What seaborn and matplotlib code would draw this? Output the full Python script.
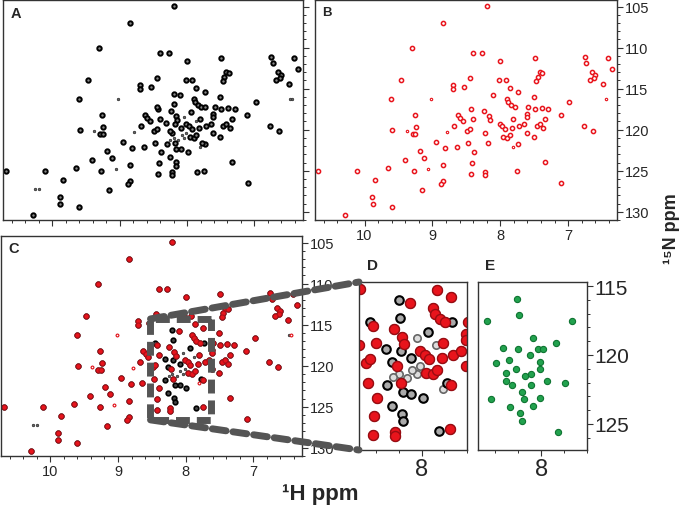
import matplotlib
matplotlib.use("Agg")
import matplotlib.pyplot as plt
import numpy as np
import pandas as pd
import seaborn as sns
from matplotlib.patches import Rectangle, ConnectionPatch
from matplotlib.ticker import MultipleLocator, NullFormatter, FormatStrFormatter

sns.set_style("white")
plt.rcParams["font.family"] = ["Liberation Sans", "DejaVu Sans"]

# peak list of the red spectrum (1H ppm, 15N ppm), also present in black spectrum
red_h = [8.20, 8.84, 9.30, 8.40, 8.27, 8.00, 9.47, 8.44, 8.02, 7.92, 7.49, 7.42, 7.38, 7.45, 7.47,
         8.70, 8.70, 8.54, 7.86, 7.74, 9.61, 8.10, 7.90, 7.88, 7.84, 7.51, 6.98,
         7.79, 7.59, 7.49, 7.39, 7.29, 8.43, 8.24, 9.26,
         8.63, 8.59, 8.55, 8.40, 8.17, 8.15, 7.81, 7.61, 7.61, 7.34, 7.11,
         6.77, 6.63, 9.59, 9.24, 9.29, 9.25, 8.68, 8.49, 8.45, 8.22,
         8.01, 7.97, 7.93, 7.96, 7.90, 7.86, 7.82, 7.72, 7.65, 7.46, 7.42, 7.37, 7.61, 7.51,
         8.95, 8.64, 8.47, 8.18, 7.74, 9.19, 8.39, 8.81, 9.41, 9.12, 8.42, 8.84, 7.34,
         10.69, 10.11, 9.65, 9.27, 8.43, 8.23, 8.23, 7.75, 9.84, 8.84, 8.87, 7.10, 9.16,
         9.89, 9.88, 9.60, 10.29,
         6.75, 6.73, 6.65, 6.60, 6.62, 6.68, 6.41, 6.36, 6.49]
red_n = [104.9, 107.0, 110.0, 110.7, 110.7, 111.6, 113.9, 113.7, 113.9, 113.9, 111.3, 113.0, 113.1, 113.6, 114.1,
         114.5, 115.1, 114.8, 114.9, 115.4, 116.3, 115.8, 116.2, 116.6, 117.0, 116.0, 116.6,
         117.2, 117.2, 117.5, 117.4, 117.5, 117.5, 117.7, 118.2,
         118.2, 118.6, 118.9, 118.7, 118.3, 118.8, 118.7, 118.1, 118.5, 118.7, 118.2,
         119.6, 120.2, 120.0, 119.7, 120.5, 120.5, 119.6, 120.2, 119.9, 120.4,
         119.3, 119.6, 119.9, 120.9, 121.0, 120.7, 119.8, 119.6, 119.3, 119.5, 119.3, 119.8, 120.4, 120.9,
         121.5, 122.1, 121.6, 121.6, 121.8, 122.6, 122.7, 122.2, 123.7, 123.5, 124.0, 124.3, 123.9,
         125.0, 125.0, 124.7, 125.0, 125.4, 125.2, 125.5, 125.0, 126.1, 126.2, 126.6, 126.5, 127.3,
         128.2, 129.0, 129.4, 130.4,
         111.2, 111.9, 113.0, 113.3, 113.7, 113.9, 111.3, 112.6, 114.4]

# weak red peaks
red_small_h = [9.02, 9.38, 8.78, 7.81, 9.06, 6.44]
red_small_n = [116.3, 120.2, 120.3, 122.1, 124.8, 116.3]

# peaks only in the black spectrum
black_h = [8.20, 8.19, 8.45, 8.18, 8.31, 8.26, 8.09, 8.30, 8.16, 8.09, 7.99, 8.26, 8.17, 8.16,
           7.85, 7.78, 7.94, 7.73]
black_n = [115.6, 116.9, 117.2, 119.3, 119.2, 120.1, 119.8, 121.8, 122.3, 122.4, 122.7, 123.3, 123.9, 124.4,
           125.1, 121.6, 117.9, 117.2]

# weak grey ridge of the black spectrum
grey_h = [8.04, 8.01, 8.04, 8.08, 8.13, 8.20, 8.25, 7.87, 10.25, 10.20, 6.47]
grey_n = [118.4, 120.4, 121.0, 120.7, 121.3, 121.0, 121.2, 118.9, 127.2, 127.2, 116.2]

# green spectrum (panel E)
green_h = [8.21, 8.19, 8.47, 7.73, 8.07, 7.87, 8.33, 8.20, 8.03, 7.98, 8.10, 8.28, 8.39, 8.01,
           8.22, 8.31, 8.31, 8.14, 8.09, 8.01, 7.95, 7.79, 8.25, 8.09, 8.17, 8.44, 8.15, 8.01,
           8.07, 8.27, 8.18, 8.17, 7.85]
green_n = [115.9, 117.1, 117.5, 117.5, 118.8, 119.1, 119.5, 119.6, 119.6, 119.6, 120.0, 120.4, 120.6, 120.5,
           121.0, 121.3, 121.9, 121.5, 121.4, 121.0, 121.9, 122.0, 122.2, 122.2, 122.7, 123.2, 123.2, 123.1,
           123.7, 123.8, 124.2, 124.8, 125.6]

red = pd.DataFrame({"H": red_h, "N": red_n})
red_small = pd.DataFrame({"H": red_small_h, "N": red_small_n})
black = pd.concat([red, pd.DataFrame({"H": black_h, "N": black_n})], ignore_index=True)
grey = pd.concat([red_small, pd.DataFrame({"H": grey_h, "N": grey_n})], ignore_index=True)
green = pd.DataFrame({"H": green_h, "N": green_n})

W, H = 682, 506
fig = plt.figure(figsize=(W / 100, H / 100), dpi=100)


def px_axes(x0, y0, x1, y1):
    return fig.add_axes([x0 / W, 1 - y1 / H, (x1 - x0) / W, (y1 - y0) / H])


def frame(ax, xlim, ylim, xlab=True, ylab=True, yticks=True, ymaj=5, fs=10.5):
    ax.set_xlim(*xlim)
    ax.set_ylim(*ylim)
    ax.set_xlabel("")
    ax.set_ylabel("")
    for s in ax.spines.values():
        s.set_color("#333333")
        s.set_linewidth(1.0)
    ax.xaxis.set_major_locator(MultipleLocator(1))
    ax.xaxis.set_minor_locator(MultipleLocator(0.2))
    ax.yaxis.set_major_locator(MultipleLocator(ymaj))
    ax.yaxis.set_minor_locator(MultipleLocator(1))
    ax.xaxis.set_major_formatter(FormatStrFormatter("%d") if xlab else NullFormatter())
    ax.yaxis.set_major_formatter(FormatStrFormatter("%d") if ylab else NullFormatter())
    ax.tick_params(axis="x", which="both", bottom=True, top=False, direction="out",
                   color="#333333", labelsize=fs, pad=1.5)
    ax.tick_params(axis="y", which="both", left=False, right=yticks, labelleft=False,
                   labelright=ylab, direction="out", color="#333333", labelsize=fs, pad=1.5)
    ax.tick_params(which="major", length=4, width=0.8)
    ax.tick_params(which="minor", length=2.5, width=0.7)


XL = (10.73, 6.28)
YL = (131.0, 104.2)

# A: black spectrum
axA = px_axes(3, 1, 303, 221)
sns.scatterplot(data=grey, x="H", y="N", ax=axA, s=3, color="#666666", edgecolor="#333333",
                linewidth=0.6, legend=False)
sns.scatterplot(data=black, x="H", y="N", ax=axA, s=10, color="#888888", edgecolor="black",
                linewidth=1.4, legend=False)
frame(axA, XL, YL, xlab=False, ylab=False)
axA.text(0.025, 0.975, "A", transform=axA.transAxes, fontsize=10.5, fontweight="bold", va="top")

# B: red spectrum
axB = px_axes(315, 1, 617, 221)
sns.scatterplot(data=red_small, x="H", y="N", ax=axB, s=3, color="white", edgecolor="#e8141c",
                linewidth=0.8, legend=False)
sns.scatterplot(data=red, x="H", y="N", ax=axB, s=9, color="white", edgecolor="#e8141c",
                linewidth=1.1, legend=False)
frame(axB, XL, YL)
axB.text(0.025, 0.975, "B", transform=axB.transAxes, fontsize=9.5, fontweight="bold", va="top")

# C: overlay
axC = px_axes(1, 237, 302, 457)
sns.scatterplot(data=grey, x="H", y="N", ax=axC, s=3, color="#666666", edgecolor="#333333",
                linewidth=0.6, legend=False)
sns.scatterplot(data=black, x="H", y="N", ax=axC, s=11, color="#444444", edgecolor="black",
                linewidth=1.2, legend=False)
sns.scatterplot(data=red_small, x="H", y="N", ax=axC, s=4, color="white", edgecolor="#e8141c",
                linewidth=0.8, legend=False)
sns.scatterplot(data=red, x="H", y="N", ax=axC, s=13, color="#e8141c", edgecolor="#b01018",
                linewidth=0.8, legend=False)
frame(axC, XL, YL)
axC.text(0.025, 0.975, "C", transform=axC.transAxes, fontsize=10.5, fontweight="bold", va="top")
box = Rectangle((7.62, 114.3), 0.9, 12.3, fill=False, ec="#555555", lw=5,
                ls=(0, (2.0, 1.0)), zorder=5)
axC.add_patch(box)

# D: zoom of overlay
DXL = (8.55, 7.60)
axD = px_axes(359, 283, 467, 451)
sns.scatterplot(data=grey, x="H", y="N", ax=axD, s=28, color="#dddddd", edgecolor="#666666",
                linewidth=1.2, legend=False)
sns.scatterplot(data=black, x="H", y="N", ax=axD, s=38, color="#aaaaaa", edgecolor="black",
                linewidth=1.5, legend=False)
sns.scatterplot(data=red, x="H", y="N", ax=axD, s=52, color="#e8141c", edgecolor="#9a0c12",
                linewidth=1.0, legend=False)
frame(axD, DXL, (126.5, 114.3), yticks=False, ylab=False, fs=17)
axD.text(0.07, 1.06, "D", transform=axD.transAxes, fontsize=11, fontweight="bold", va="bottom")

# E: green spectrum
axE = px_axes(478, 283, 587, 451)
sns.scatterplot(data=green, x="H", y="N", ax=axE, s=20, color="#22a24e", edgecolor="#0e7431",
                linewidth=0.8, legend=False)
frame(axE, DXL, (126.9, 114.7), fs=17)
axE.tick_params(axis="y", which="major", labelsize=15)
axE.text(0.06, 1.06, "E", transform=axE.transAxes, fontsize=11, fontweight="bold", va="bottom")

# connectors from the box in C to panel D
for yC, yD in [(114.3, 1), (126.6, 0)]:
    con = ConnectionPatch(xyA=(8.52, yC), coordsA=axC.transData, xyB=(0, yD),
                          coordsB=axD.transAxes, color="#555555", lw=5, ls=(0, (2.0, 1.0)))
    con.set_zorder(6)
    fig.add_artist(con)

fig.text(320 / W, 1 - 495 / H, "¹H ppm", fontsize=16, fontweight="bold", ha="center", va="center")
fig.text(671 / W, 1 - 229 / H, "¹⁵N ppm", fontsize=13, fontweight="bold", rotation=90,
         ha="center", va="center")

fig.savefig("out.png", dpi=100)
plt.close(fig)
